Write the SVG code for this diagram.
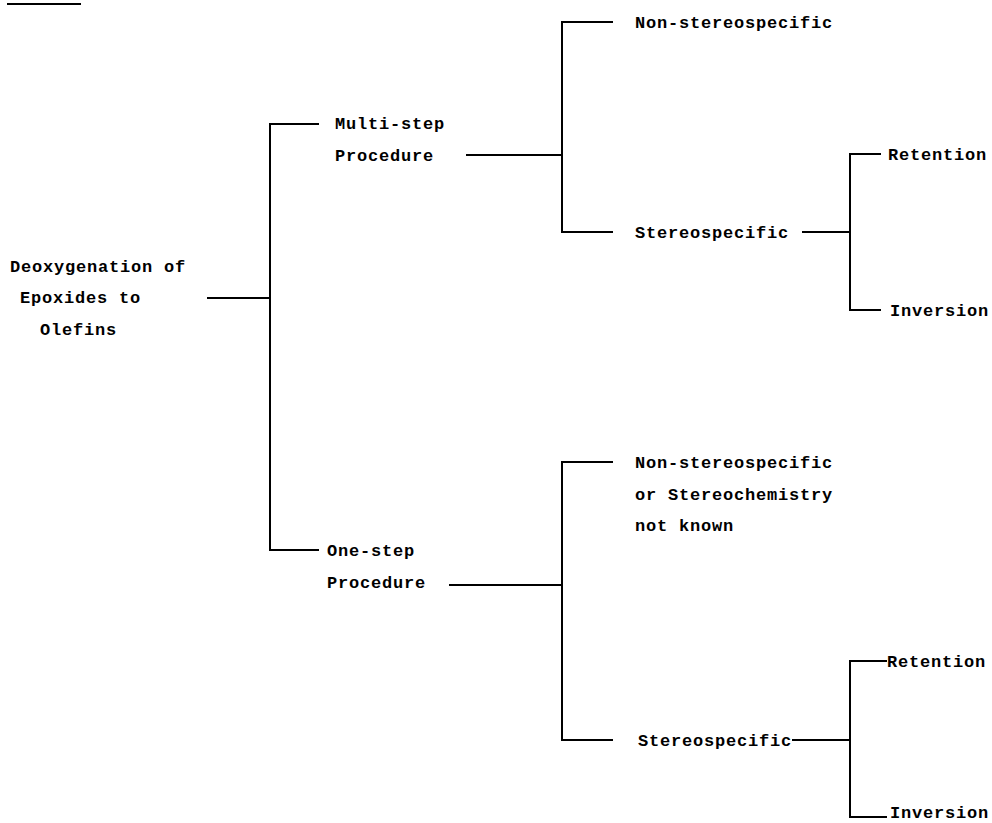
<svg xmlns="http://www.w3.org/2000/svg" width="992" height="823" viewBox="0 0 992 823">
<style>
  .t { font-family: "Liberation Mono", "DejaVu Sans Mono", monospace; font-size: 17px; font-weight: bold; letter-spacing: 0.8px; fill: #000; }
  .c { stroke: #000; stroke-width: 2; fill: none; stroke-linecap: square; }
</style>
<rect width="992" height="823" fill="#fff"/>
<g id="connectors">
  <path class="c" d="M8 4 H80"/>
  <path class="c" d="M208 298 H270 M318 124 H270 V550 H318"/>
  <path class="c" d="M467 155 H562 M612 22 H562 V232 H612"/>
  <path class="c" d="M803 232 H850 M880 154 H850 V310 H880"/>
  <path class="c" d="M450 585 H562 M612 462 H562 V740 H612"/>
  <path class="c" d="M793 740 H850 M886 661 H850 V817 H886"/>
</g>
<g id="root">
  <text class="t" x="10" y="272">Deoxygenation of</text>
  <text class="t" x="20" y="303">Epoxides to</text>
  <text class="t" x="40" y="335">Olefins</text>
</g>
<g id="multi">
  <text class="t" x="335" y="129">Multi-step</text>
  <text class="t" x="335" y="161">Procedure</text>
</g>
<g id="multi-nonstereo">
  <text class="t" x="635" y="28">Non-stereospecific</text>
</g>
<g id="multi-stereo">
  <text class="t" x="635" y="238">Stereospecific</text>
</g>
<g id="multi-retention">
  <text class="t" x="888" y="160">Retention</text>
</g>
<g id="multi-inversion">
  <text class="t" x="890" y="316">Inversion</text>
</g>
<g id="one">
  <text class="t" x="327" y="556">One-step</text>
  <text class="t" x="327" y="588">Procedure</text>
</g>
<g id="one-nonstereo">
  <text class="t" x="635" y="468">Non-stereospecific</text>
  <text class="t" x="635" y="500">or Stereochemistry</text>
  <text class="t" x="635" y="531">not known</text>
</g>
<g id="one-stereo">
  <text class="t" x="638" y="746">Stereospecific</text>
</g>
<g id="one-retention">
  <text class="t" x="887" y="667">Retention</text>
</g>
<g id="one-inversion">
  <text class="t" x="890" y="818">Inversion</text>
</g>
</svg>
